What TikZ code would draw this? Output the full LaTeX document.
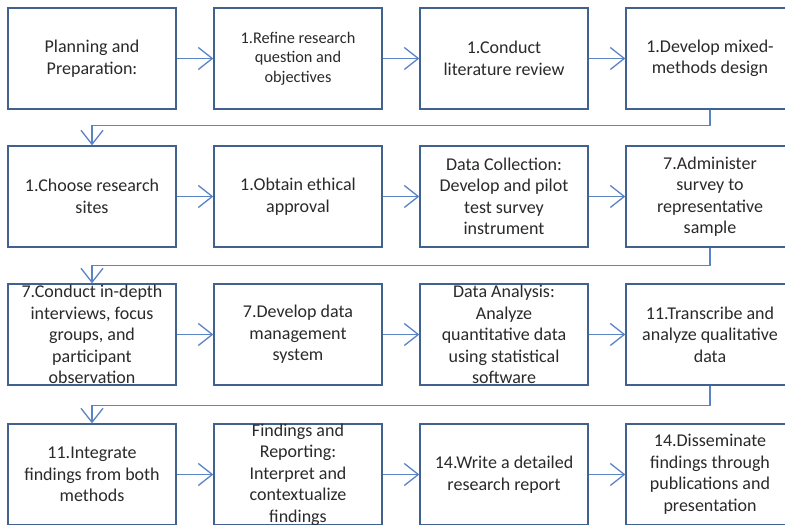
\documentclass[tikz,border=0pt]{standalone}
\usepackage{fontspec}
\setmainfont{Carlito}
\usetikzlibrary{arrows.meta}
\definecolor{boxc}{HTML}{41618F}
\definecolor{linec}{HTML}{5B84C4}
\definecolor{txtc}{HTML}{2A2A2A}
\tikzset{
  box/.style={draw=boxc, line width=1.3pt, minimum width=168pt, minimum height=101pt, inner sep=0pt, fill=white},
  txt/.style={align=center, inner sep=0pt, text=txtc, font=\fontsize{18}{21.5}\selectfont},
  smalltxt/.style={txt, font=\fontsize{16.3}{19.5}\selectfont},
  conn/.style={draw=linec, line width=1.6pt, -{Straight Barb[length=14pt,width=22pt,line width=1.3pt]}}
}
\begin{document}
\begin{tikzpicture}[x=1pt,y=1pt]
\useasboundingbox (0,0) rectangle (785,525);
\clip (0,0) rectangle (785,525);
\fill[white] (0,0) rectangle (785,525);
% row 1
\node[box] (b1) at (92,466.5) {};
\node[box] (b2) at (298,466.5) {};
\node[box] (b3) at (504,466.5) {};
\node[box] (b4) at (710,466.5) {};
% row 2
\node[box] (b5) at (92,328.5) {};
\node[box] (b6) at (298,328.5) {};
\node[box] (b7) at (504,328.5) {};
\node[box] (b8) at (710,328.5) {};
% row 3
\node[box] (b9) at (92,190.5) {};
\node[box] (b10) at (298,190.5) {};
\node[box] (b11) at (504,190.5) {};
\node[box] (b12) at (710,190.5) {};
% row 4
\node[box] (b13) at (92,50.5) {};
\node[box] (b14) at (298,50.5) {};
\node[box] (b15) at (504,50.5) {};
\node[box] (b16) at (710,50.5) {};
% texts
\node[txt] (t1) at (b1.center) {Planning and\\Preparation:};
\node[smalltxt] (t2) at (b2.center) {1.Refine research\\question and\\objectives};
\node[txt] (t3) at (b3.center) {1.Conduct\\literature review};
\node[txt] (t4) at (b4.center) {1.Develop mixed-\\methods design};
\node[txt] (t5) at (b5.center) {1.Choose research\\sites};
\node[txt] (t6) at (b6.center) {1.Obtain ethical\\approval};
\node[txt] (t7) at (b7.center) {Data Collection:\\Develop and pilot\\test survey\\instrument};
\node[txt] (t8) at (b8.center) {7.Administer\\survey to\\representative\\sample};
\node[txt] (t9) at (b9.center) {7.Conduct in-depth\\interviews, focus\\groups, and\\participant\\observation};
\node[txt] (t10) at (b10.center) {7.Develop data\\management\\system};
\node[txt] (t11) at (b11.center) {Data Analysis:\\Analyze\\quantitative data\\using statistical\\software};
\node[txt] (t12) at (b12.center) {11.Transcribe and\\analyze qualitative\\data};
\node[txt] (t13) at (b13.center) {11.Integrate\\findings from both\\methods};
\node[txt] (t14) at (b14.center) {Findings and\\Reporting:\\Interpret and\\contextualize\\findings};
\node[txt] (t15) at (b15.center) {14.Write a detailed\\research report};
\node[txt] (t16) at (b16.center) {14.Disseminate\\findings through\\publications and\\presentation};
% horizontal connectors
\foreach \a/\b in {b1/b2,b2/b3,b3/b4,b5/b6,b6/b7,b7/b8,b9/b10,b10/b11,b11/b12,b13/b14,b14/b15,b15/b16}
  \draw[conn] (\a.east) -- (\b.west);
% row change connectors
\draw[conn] (b4.south) -- ++(0,-16) -| (b5.north);
\draw[conn] (b8.south) -- ++(0,-18) -| (b9.north);
\draw[conn] (b12.south) -- ++(0,-20) -| (b13.north);
\end{tikzpicture}
\end{document}
